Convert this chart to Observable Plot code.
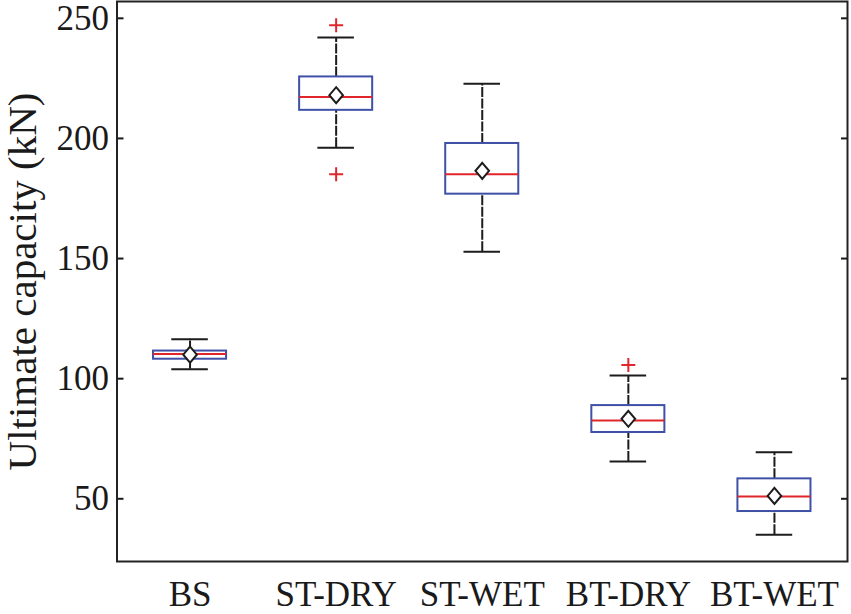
<!DOCTYPE html>
<html><head><meta charset="utf-8">
<script src="https://cdn.jsdelivr.net/npm/d3@7"></script>
<script src="https://cdn.jsdelivr.net/npm/@observablehq/plot@0.6"></script>
<style>body{margin:0;background:#fff} svg{display:block}</style>
</head><body><div id="chart"></div>
<script>
const categories = ["BS", "ST-DRY", "ST-WET", "BT-DRY", "BT-WET"];
const lowerWhisker = [103.9, 196.1, 152.8, 65.5, 35.0];
const q1 = [108.1, 211.7, 176.8, 77.6, 44.7];
const median = [110.3, 217.3, 185.1, 82.6, 51.0];
const q3 = [111.5, 225.6, 197.9, 88.8, 58.3];
const upperWhisker = [116.4, 242.0, 222.8, 101.3, 69.4];
const means = [110.0, 218.0, 186.5, 83.3, 51.2];
const outlierCategory = ["ST-DRY", "ST-DRY", "BT-DRY"];
const outlierValue = [247.1, 185.1, 105.7];
const yTicks = [50, 100, 150, 200, 250];

const rows = categories.map((c, i) => ({
  pos: i + 1, cat: c, lo: lowerWhisker[i], q1: q1[i], med: median[i],
  q3: q3[i], hi: upperWhisker[i], mean: means[i]
}));
const outliers = outlierCategory.map((c, i) => ({pos: categories.indexOf(c) + 1, v: outlierValue[i]}));

const diamond = {draw(ctx, size) {
  const r = Math.sqrt(size / Math.PI), w = r * 0.85;
  ctx.moveTo(0, -r); ctx.lineTo(w, 0); ctx.lineTo(0, r); ctx.lineTo(-w, 0); ctx.closePath();
}};
const plus = {draw(ctx, size) {
  const r = Math.sqrt(size / Math.PI);
  ctx.moveTo(-r, 0); ctx.lineTo(r, 0); ctx.moveTo(0, -r); ctx.lineTo(0, r);
}};

const blue = "#3f51a6", red = "#e0262a", ink = "#1c1c1c";
const half = 0.25, cap = 0.125;

const chart = Plot.plot({
  width: 851, height: 614,
  marginLeft: 116.5, marginRight: 4, marginTop: 1, marginBottom: 53,
  style: {fontFamily: "'Liberation Serif', 'Times New Roman', serif", fontSize: "35px", color: "#1a1a1a", background: "#fff"},
  x: {domain: [0.5, 5.5]},
  y: {domain: [23.9, 257]},
  marks: [
    Plot.ruleX(rows, {x: "pos", y1: "q3", y2: "hi", stroke: ink, strokeWidth: 2, strokeDasharray: "10,1.5"}),
    Plot.ruleX(rows, {x: "pos", y1: "lo", y2: "q1", stroke: ink, strokeWidth: 2, strokeDasharray: "10,1.5"}),
    Plot.ruleY(rows, {y: "hi", x1: d => d.pos - cap, x2: d => d.pos + cap, stroke: ink, strokeWidth: 2}),
    Plot.ruleY(rows, {y: "lo", x1: d => d.pos - cap, x2: d => d.pos + cap, stroke: ink, strokeWidth: 2}),
    Plot.rect(rows, {x1: d => d.pos - half, x2: d => d.pos + half, y1: "q1", y2: "q3", stroke: blue, strokeWidth: 2, fill: "white"}),
    Plot.ruleY(rows, {y: "med", x1: d => d.pos - half, x2: d => d.pos + half, stroke: red, strokeWidth: 2}),
    Plot.dot(rows, {x: "pos", y: "mean", symbol: diamond, r: 8, stroke: ink, strokeWidth: 2, fill: "white"}),
    Plot.dot(outliers, {x: "pos", y: "v", symbol: plus, r: 7, stroke: red, strokeWidth: 2}),
    Plot.axisX(rows.map(d => d.pos), {tickFormat: p => categories[p - 1], tickSize: 0, tickPadding: 20, fontSize: 35, label: null}),
    Plot.axisY(yTicks, {tickSize: 0, tickPadding: 8, fontSize: 35, label: null}),
    Plot.axisY(yTicks, {tickSize: 0, tickFormat: () => "", fontSize: 41, label: "Ultimate capacity (kN)", labelAnchor: "center", labelArrow: "none", labelOffset: 110}),
    Plot.axisY(yTicks, {tickSize: 7, dx: 7, strokeWidth: 2, tickFormat: () => "", label: null}),
    Plot.axisY(yTicks, {anchor: "right", tickSize: 7, dx: -7, strokeWidth: 2, tickFormat: () => "", label: null}),
    Plot.frame({stroke: "#222", strokeWidth: 2})
  ]
});
document.getElementById("chart").appendChild(chart);
</script></body></html>
